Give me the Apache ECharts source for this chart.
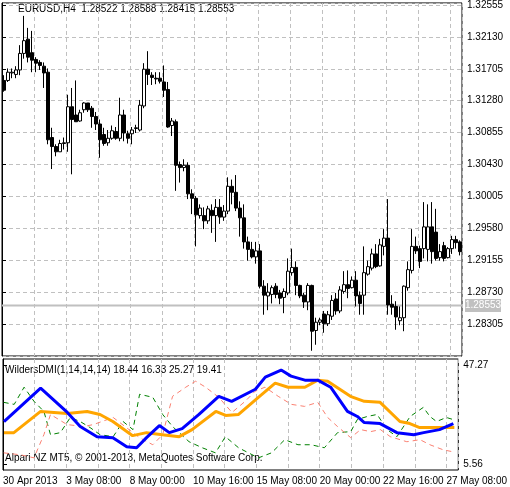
<!DOCTYPE html>
<html><head><meta charset="utf-8">
<script src="https://cdn.jsdelivr.net/npm/echarts@6/dist/echarts.min.js"></script>
<style>html,body{margin:0;padding:0;background:#fff}#c{width:510px;height:487px}</style>
</head><body><div id="c"></div>
<script>
// candles: [open, close, low, high]
const candles = [
[1.3155,1.3142,1.3140,1.3162],[1.3155,1.3166,1.3153,1.3171],[1.3165,1.3166,1.3158,1.3171],[1.3163,1.3169,1.3158,1.3174],
[1.3169,1.3191,1.3162,1.3202],[1.3191,1.3208,1.3184,1.3241],[1.3210,1.3186,1.3179,1.3225],[1.3192,1.3182,1.3166,1.3221],
[1.3183,1.3178,1.3166,1.3186],[1.3179,1.3175,1.3169,1.3182],[1.3174,1.3165,1.3145,1.3179],[1.3166,1.3076,1.3070,1.3171],
[1.3079,1.3067,1.3037,1.3092],[1.3067,1.3060,1.3054,1.3070],[1.3060,1.3071,1.3060,1.3076],[1.3071,1.3072,1.3063,1.3079],
[1.3072,1.3120,1.3060,1.3136],[1.3120,1.3103,1.3030,1.3145],[1.3109,1.3100,1.3100,1.3155],[1.3101,1.3112,1.3100,1.3116],
[1.3116,1.3125,1.3112,1.3126],[1.3125,1.3116,1.3113,1.3125],[1.3118,1.3107,1.3092,1.3121],[1.3107,1.3097,1.3089,1.3113],
[1.3097,1.3076,1.3052,1.3103],[1.3083,1.3071,1.3068,1.3092],[1.3072,1.3078,1.3068,1.3089],[1.3078,1.3088,1.3076,1.3095],
[1.3087,1.3078,1.3076,1.3093],[1.3078,1.3109,1.3074,1.3132],[1.3109,1.3085,1.3074,1.3116],[1.3084,1.3078,1.3071,1.3088],
[1.3084,1.3089,1.3070,1.3093],[1.3091,1.3092,1.3085,1.3096],[1.3089,1.3122,1.3087,1.3129],[1.3121,1.3170,1.3118,1.3178],
[1.3170,1.3163,1.3149,1.3194],[1.3162,1.3159,1.3149,1.3166],[1.3158,1.3157,1.3150,1.3166],[1.3158,1.3154,1.3151,1.3166],
[1.3153,1.3142,1.3133,1.3175],[1.3143,1.3093,1.3092,1.3153],[1.3095,1.3101,1.3081,1.3105],[1.3100,1.3042,1.3008,1.3103],
[1.3043,1.3039,1.3019,1.3047],[1.3039,1.3042,1.3034,1.3050],[1.3042,1.3004,1.2997,1.3046],[1.3004,1.2998,1.2977,1.3010],
[1.2998,1.2976,1.2934,1.3001],[1.2975,1.2985,1.2971,1.2990],[1.2975,1.2968,1.2957,1.2986],[1.2968,1.2984,1.2964,1.2988],
[1.2982,1.2975,1.2952,1.2990],[1.2975,1.2986,1.2940,1.2997],[1.2986,1.2973,1.2964,1.2997],[1.2973,1.2981,1.2968,1.2989],
[1.2981,1.3014,1.2977,1.3026],[1.3014,1.3006,1.2990,1.3023],[1.3006,1.2985,1.2981,1.3029],[1.2985,1.2972,1.2947,1.2994],
[1.2972,1.2940,1.2931,1.2990],[1.2940,1.2930,1.2915,1.2947],[1.2930,1.2920,1.2918,1.2940],[1.2920,1.2928,1.2911,1.2940],
[1.2928,1.2881,1.2878,1.2937],[1.2881,1.2869,1.2843,1.2889],[1.2868,1.2873,1.2849,1.2885],[1.2870,1.2879,1.2858,1.2882],
[1.2881,1.2870,1.2865,1.2885],[1.2872,1.2865,1.2857,1.2876],[1.2866,1.2874,1.2845,1.2878],[1.2872,1.2901,1.2869,1.2918],
[1.2899,1.2906,1.2895,1.2931],[1.2906,1.2882,1.2869,1.2914],[1.2882,1.2868,1.2865,1.2883],[1.2869,1.2860,1.2852,1.2872],
[1.2860,1.2882,1.2849,1.2885],[1.2882,1.2821,1.2795,1.2883],[1.2822,1.2833,1.2803,1.2839],[1.2833,1.2836,1.2829,1.2839],
[1.2844,1.2831,1.2819,1.2848],[1.2831,1.2843,1.2828,1.2848],[1.2841,1.2862,1.2836,1.2869],[1.2864,1.2848,1.2843,1.2872],
[1.2848,1.2876,1.2845,1.2881],[1.2874,1.2883,1.2871,1.2901],[1.2883,1.2878,1.2865,1.2902],[1.2879,1.2889,1.2878,1.2894],
[1.2889,1.2868,1.2854,1.2901],[1.2869,1.2858,1.2843,1.2874],[1.2869,1.2899,1.2843,1.2934],[1.2897,1.2907,1.2895,1.2915],
[1.2905,1.2924,1.2902,1.2931],[1.2924,1.2907,1.2905,1.2937],[1.2908,1.2936,1.2907,1.2944],[1.2934,1.2945,1.2922,1.2957],
[1.2945,1.2856,1.2843,1.2997],[1.2857,1.2853,1.2843,1.2869],[1.2854,1.2840,1.2823,1.2861],[1.2835,1.2839,1.2829,1.2854],
[1.2839,1.2881,1.2821,1.2882],[1.2879,1.2903,1.2875,1.2914],[1.2902,1.2934,1.2898,1.2957],[1.2934,1.2928,1.2924,1.2947],
[1.2931,1.2914,1.2905,1.2935],[1.2931,1.2960,1.2918,1.2993],[1.2930,1.2960,1.2914,1.2990],[1.2960,1.2927,1.2911,1.2993],
[1.2953,1.2918,1.2915,1.2984],[1.2919,1.2927,1.2915,1.2937],[1.2935,1.2918,1.2914,1.2940],[1.2919,1.2931,1.2918,1.2933],
[1.2931,1.2943,1.2924,1.2948],[1.2943,1.2939,1.2931,1.2948],[1.2940,1.2927,1.2922,1.2942]
];
const dateLabels = ['30 Apr 2013','3 May 08:00','8 May 00:00','10 May 16:00','15 May 08:00','20 May 00:00','22 May 16:00','27 May 08:00'];
const priceTicks = [1.32555,1.32130,1.31705,1.31280,1.30855,1.30430,1.30005,1.29580,1.29155,1.28730,1.28305];
const lastPrice = 1.28553;
const dmiLabels = [5.56, 47.27];
// indicator lines: [bar index, value]
const blueLine = [[0.25,23.44],[9.5,37.48],[16.25,27.27],[19.5,21.31],[23.75,17.05],[27.75,16.63],[31.25,12.8],[33.75,12.37],[36.25,16.63],[39.5,21.73],[42,18.75],[45.25,20.46],[49.5,26.42],[54.5,34.08],[57.75,31.95],[63.75,37.06],[66.25,42.16],[70.25,45.14],[72.75,42.59],[76.25,40.89],[79.5,40.89],[82.75,37.91],[87,27.69],[89.5,25.56],[91.25,23.01],[95.25,22.58],[99.5,18.75],[103.75,17.9],[106.25,18.75],[110.25,20.03],[113.75,22.58]];
const orangeLine = [[0.25,18.75],[2.75,18.75],[9.5,27.69],[16.25,26.84],[21.25,27.69],[24.5,26.42],[27.75,23.44],[32.75,17.48],[36.25,18.75],[40.25,17.9],[44.5,17.05],[47.75,20.03],[53.75,27.69],[56.25,25.99],[59.5,26.42],[64.5,33.65],[68.75,39.61],[72,37.91],[76.25,37.91],[79.5,40.89],[82,40.46],[87.75,34.08],[91.25,31.95],[95.25,31.52],[100.25,23.44],[102.75,22.58],[105.25,20.88],[110.25,20.88],[114,20.88]];
const greenLine = [[0.17,31.52],[2.83,30.67],[5.33,37.91],[7.83,31.95],[10.33,27.69],[12,17.9],[14.5,18.75],[17,25.14],[19.5,23.44],[22,20.88],[24.5,17.9],[27.83,17.05],[30.33,23.44],[32.83,20.03],[34.5,34.93],[37.83,33.65],[40.33,26.42],[42.83,21.31],[47,14.92],[50.33,12.37],[53.67,10.24],[56.17,17.05],[59.5,12.37],[64.5,8.11],[67.83,10.24],[71.17,15.78],[74.5,13.65],[77.83,13.65],[81.17,12.37],[84.5,18.75],[87.83,19.18],[89.5,24.29],[92,25.56],[94.5,26.42],[97,20.03],[99.5,17.05],[102.83,25.56],[106.17,29.4],[107.83,25.56],[109.5,23.44],[112,25.14],[113.67,24.29]];
const redLine = [[0.17,10.24],[4.5,9.39],[7.83,8.11],[10.33,17.9],[12,26.42],[16.17,22.16],[20.33,21.31],[22.83,22.16],[27.83,25.14],[31.17,20.88],[34.5,16.63],[37.83,13.65],[40.33,17.9],[42.83,34.08],[46.17,37.91],[48.67,40.46],[51.17,37.91],[54.5,33.65],[57.83,27.27],[61.17,31.95],[63.67,36.2],[66.17,37.91],[69.5,34.08],[72.83,30.67],[76.17,29.82],[79.5,31.52],[82,25.14],[84.5,21.31],[87.83,16.63],[90.33,20.03],[92.83,19.18],[95.33,20.03],[97.83,17.05],[102,14.92],[105.33,15.78],[107.83,13.65],[111.17,11.52],[113.67,10.67]];

const N = candles.length;
const cats = candles.map((_, i) => i);
const font = 'Liberation Sans';
const fs = 10;
const grid = {lineStyle:{color:'#c0c0c0', type:[4,3], width:1}};
const chart = echarts.init(document.getElementById('c'), null, {renderer:'canvas'});
chart.setOption({
  animation:false,
  textStyle:{fontFamily:font},
  grid:[
    {left:2, top:2, width:460, height:354, show:true, borderColor:'#000', borderWidth:1},
    {left:2, top:359, width:460, height:111, show:true, borderColor:'#000', borderWidth:1}
  ],
  xAxis:[
    {type:'category', gridIndex:0, data:cats, show:false, boundaryGap:true},
    {type:'value', gridIndex:0, min:0, max:N, interval:8, axisLine:{show:false}, axisTick:{show:false}, axisLabel:{show:false}, splitLine:Object.assign({show:true}, grid)},
    {type:'value', gridIndex:1, min:0, max:N, interval:8, axisLine:{show:false}, axisTick:{show:false},
      splitLine:Object.assign({show:true}, grid),
      axisLabel:{show:true, color:'#000', fontSize:fs, fontFamily:font, align:'left', margin:6, showMaxLabel:false, hideOverlap:false,
        formatter:v => (Math.round(v) % 16 === 0 ? (dateLabels[Math.round(v)/16] || '') : '')}}
  ],
  yAxis:[
    {type:'value', gridIndex:0, position:'right', min:priceTicks[10]-0.00425, max:1.32582, interval:0.00425,
      axisLine:{show:true, lineStyle:{color:'#000'}}, axisTick:{show:true, length:4, lineStyle:{color:'#000'}},
      axisLabel:{color:'#000', fontSize:fs, fontFamily:font, margin:5, showMinLabel:false, formatter:v => v.toFixed(5)},
      splitLine:Object.assign({show:true}, grid)},
    {type:'value', gridIndex:1, position:'right', min:3.0, max:49.8,
      axisLine:{show:true, lineStyle:{color:'#000'}},
      axisTick:{show:true, length:4, customValues:dmiLabels, lineStyle:{color:'#000'}},
      axisLabel:{color:'#000', fontSize:fs, fontFamily:font, margin:5, customValues:dmiLabels, formatter:v => v.toFixed(2)},
      splitLine:{show:false}}
  ],
  series:[
    {type:'line', xAxisIndex:1, yAxisIndex:0, data:[[0,lastPrice],[N,lastPrice]], symbol:'none', z:1,
      lineStyle:{color:'#c0c0c0', width:2},
      markPoint:{symbol:'rect', symbolSize:[36,13], itemStyle:{color:'#c0c0c0'},
        label:{show:true, color:'#fff', fontSize:fs, fontFamily:font, formatter:() => lastPrice.toFixed(5)},
        data:[{coord:[N,lastPrice], symbolOffset:[21,0]}]}},
    {type:'candlestick', xAxisIndex:0, yAxisIndex:0, data:candles, barWidth:3, z:3,
      itemStyle:{color:'#fff', color0:'#000', borderColor:'#000', borderColor0:'#000', borderWidth:1}},
    {type:'line', xAxisIndex:2, yAxisIndex:1, data:greenLine, symbol:'none', lineStyle:{color:'#008000', width:1, type:[5,4]}},
    {type:'line', xAxisIndex:2, yAxisIndex:1, data:redLine, symbol:'none', lineStyle:{color:'#fa8072', width:1, type:[5,4]}},
    {type:'line', xAxisIndex:2, yAxisIndex:1, data:orangeLine, symbol:'none', lineStyle:{color:'#ffa500', width:3}},
    {type:'line', xAxisIndex:2, yAxisIndex:1, data:blueLine, symbol:'none', lineStyle:{color:'#0000ff', width:3}}
  ],
  graphic:[
    {type:'text', left:18, top:4, style:{text:'EURUSD,H4  1.28522 1.28588 1.28415 1.28553', fill:'#000', font:'10px "Liberation Sans"'}},
    {type:'text', left:5, top:365, style:{text:'WildersDMI(1,14,14,14) 18.44 16.33 25.27 19.41', fill:'#000', font:'10px "Liberation Sans"'}},
    {type:'text', left:5, top:453, style:{text:'Alpari NZ MT5, © 2001-2013, MetaQuotes Software Corp.', fill:'#000', font:'10px "Liberation Sans"'}}
  ]
});
</script></body></html>
